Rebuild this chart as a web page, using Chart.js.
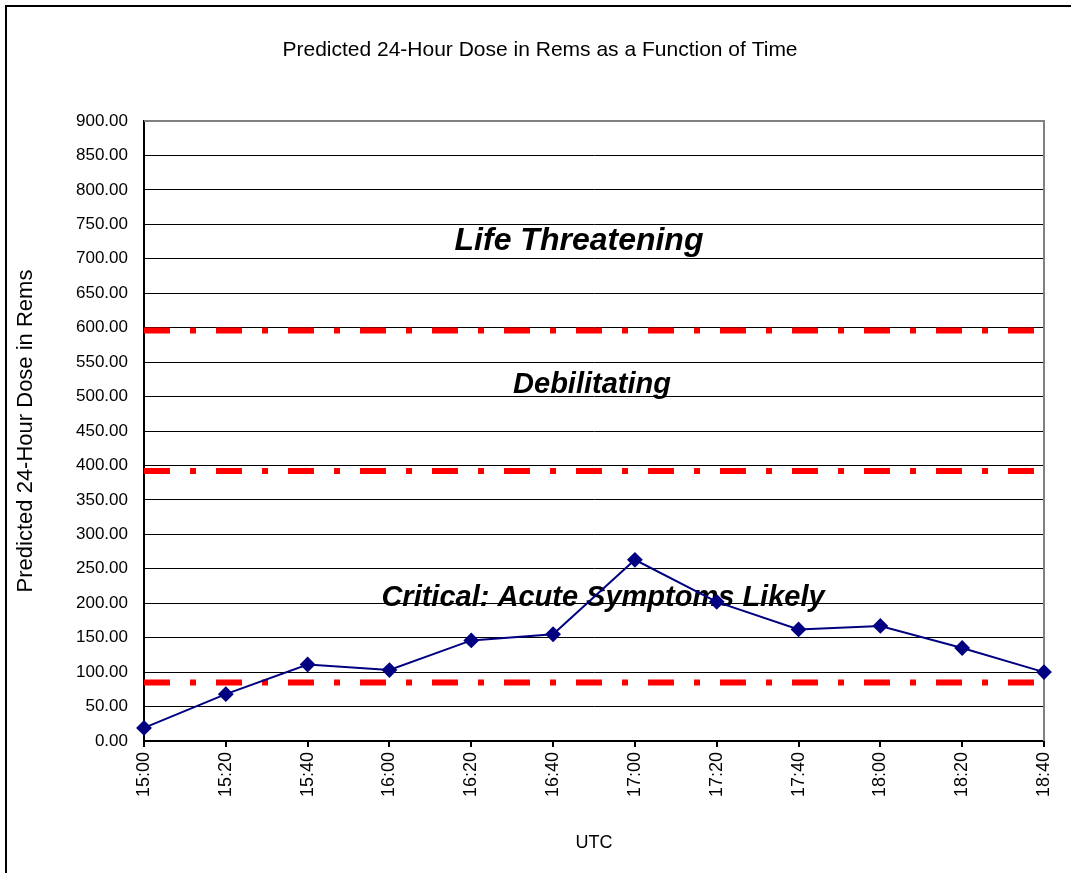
<!DOCTYPE html>
<html>
<head>
<meta charset="utf-8">
<script src="https://cdn.jsdelivr.net/npm/chart.js@4"></script>
<style>
  body { margin: 0; background: #fff; }
</style>
</head>
<body>
<canvas id="dose-chart" width="1071" height="873"></canvas>
<script>
// Predicted 24-Hour Dose chart

// Categories (UTC times)
const times = ['15:00', '15:20', '15:40', '16:00', '16:20', '16:40',
  '17:00', '17:20', '17:40', '18:00', '18:20', '18:40'];

// Predicted dose values
const doseValues = [19, 68, 111, 103, 146, 155, 263, 202, 162, 167, 135, 100];

// Threshold levels (red dash-dot lines)
const thresholdLevels = [85, 392, 596];

// Zone labels and the value where each is written
const zoneLabels = ['Life Threatening', 'Debilitating', 'Critical: Acute Symptoms Likely'];
const zoneLabelValues = [725, 517, 208];

const chartTitle = 'Predicted 24-Hour Dose in Rems as a Function of Time';
const fontFamily = '"Liberation Sans", Arial, sans-serif';

// Build datasets
const thresholdSets = thresholdLevels.map(function(level) {
  return {
    type: 'line',
    label: 'Threshold ' + level,
    data: times.map(function() { return level; }),
    borderColor: '#ff0000',
    borderWidth: 6,
    borderDash: [26, 20, 6, 20],
    pointRadius: 0,
    fill: false
  };
});

const data = {
  labels: times,
  datasets: [
    {
      type: 'line',
      label: 'Dose',
      data: doseValues,
      borderColor: '#000080',
      backgroundColor: '#000080',
      borderWidth: 2,
      pointStyle: 'rectRot',
      pointRadius: 6.5,
      pointHoverRadius: 6.5,
      tension: 0,
      fill: false
    }
  ].concat(thresholdSets)
};

// frame, title, gray plot border and zone labels
const extras = {
  id: 'extras',
  beforeDraw(chart) {
    const c = chart.ctx;
    c.save();
    c.strokeStyle = '#000';
    c.lineWidth = 2;
    c.beginPath();
    c.moveTo(6, chart.height);
    c.lineTo(6, 6);
    c.lineTo(chart.width, 6);
    c.stroke();

    c.fillStyle = '#000';
    c.font = '21px ' + fontFamily;
    c.textAlign = 'center';
    c.textBaseline = 'alphabetic';
    c.fillText(chartTitle, 540, 56);
    c.restore();
  },
  beforeDatasetsDraw(chart) {
    const c = chart.ctx;
    const a = chart.chartArea;
    const y = chart.scales.y;
    c.save();
    c.strokeStyle = '#808080';
    c.lineWidth = 2;
    c.beginPath();
    c.moveTo(a.left, a.top);
    c.lineTo(a.right, a.top);
    c.lineTo(a.right, a.bottom);
    c.stroke();

    c.fillStyle = '#000';
    c.textAlign = 'center';
    c.textBaseline = 'middle';
    const cx = [579, 592, 603];
    const sizes = [32, 29, 29];
    zoneLabels.forEach(function(txt, i) {
      c.font = 'italic bold ' + sizes[i] + 'px ' + fontFamily;
      c.fillText(txt, cx[i], y.getPixelForValue(zoneLabelValues[i]));
    });
    c.restore();
  }
};

const ctx = document.getElementById('dose-chart').getContext('2d');

const doseChart = new Chart(ctx, {
  data: data,
  plugins: [extras],
  options: {
    responsive: false,
    animation: false,
    layout: {
      padding: { top: 121, left: 12, right: 27, bottom: 15 }
    },
    scales: {
      x: {
        grid: {
          drawOnChartArea: false,
          drawTicks: true,
          tickLength: 6,
          color: '#000',
          lineWidth: 2
        },
        border: { color: '#000', width: 2 },
        ticks: {
          color: '#000',
          minRotation: 90,
          maxRotation: 90,
          padding: 5,
          font: { size: 18, family: fontFamily }
        },
        title: {
          display: true,
          text: 'UTC',
          color: '#000',
          padding: { top: 4, bottom: 4 },
          font: { size: 18, family: fontFamily }
        },
        afterFit: function(scale) {
          scale.height = 873 - 741 - 15;
        }
      },
      y: {
        min: 0,
        max: 900,
        ticks: {
          stepSize: 50,
          color: '#000',
          padding: 16,
          font: { size: 17, family: fontFamily },
          callback: function(value) {
            return value.toFixed(2);
          }
        },
        grid: {
          drawTicks: false,
          color: '#000',
          lineWidth: 1
        },
        border: { color: '#000', width: 2 },
        title: {
          display: true,
          text: 'Predicted 24-Hour Dose in Rems',
          color: '#000',
          padding: { top: 1, bottom: 4 },
          font: { size: 22, family: fontFamily }
        },
        afterFit: function(scale) {
          scale.width = 144 - 12;
        }
      }
    },
    plugins: {
      legend: { display: false },
      tooltip: { enabled: false },
      title: { display: false }
    }
  }
});
</script>
</body>
</html>
